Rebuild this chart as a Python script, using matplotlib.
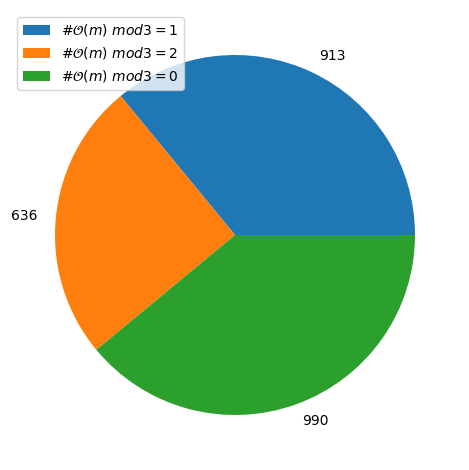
import matplotlib
matplotlib.use("Agg")
import matplotlib.pyplot as plt

values = [913, 636, 990]
labels = ["913", "636", "990"]
legend_labels = [r"$\#\mathcal{O}(m)\ mod3 = 1$",
                 r"$\#\mathcal{O}(m)\ mod3 = 2$",
                 r"$\#\mathcal{O}(m)\ mod3 = 0$"]

fig = plt.figure(figsize=(4.69, 4.70), dpi=100)
ax = fig.add_axes([10/469, 10/470, 450/469, 450/470])
wedges, texts = ax.pie(values, labels=labels)
ax.set_xlim(-1.25, 1.25)
ax.set_ylim(-1.25, 1.25)
ax.legend(wedges, legend_labels, loc="upper left")
fig.savefig("out.png", dpi=100)
